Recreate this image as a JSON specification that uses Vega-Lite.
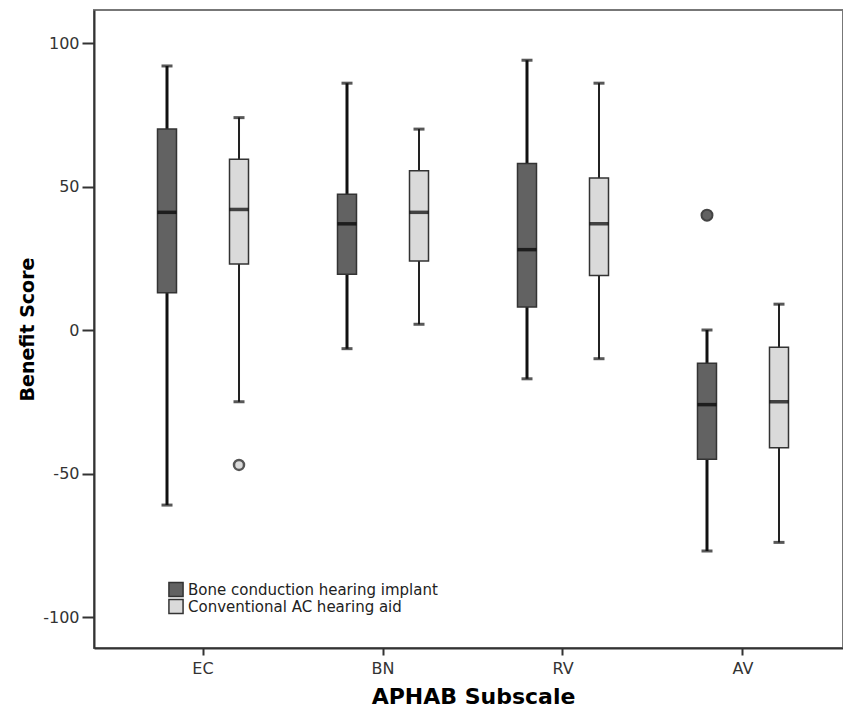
{
  "$schema": "https://vega.github.io/schema/vega-lite/v6.json",
  "width": 749,
  "height": 638,
  "autosize": "none",
  "padding": {"left": 94, "top": 10, "right": 0, "bottom": 68},
  "background": "white",
  "config": {
    "view": {"stroke": "#777777", "strokeWidth": 2},
    "font": "DejaVu Sans",
    "axis": {
      "grid": false,
      "domainColor": "#333333",
      "domainWidth": 2,
      "tickColor": "#333333",
      "tickWidth": 2,
      "labelColor": "#333333",
      "labelFont": "DejaVu Sans",
      "labelFontSize": 16,
      "titleFont": "DejaVu Sans",
      "titleFontWeight": "bold",
      "titleColor": "#000000"
    }
  },
  "datasets": {
    "boxes": [
      {"subscale": "EC", "group": "Bone conduction hearing implant", "lower": -61, "q1": 13, "median": 41, "q3": 70, "upper": 92},
      {"subscale": "EC", "group": "Conventional AC hearing aid", "lower": -25, "q1": 23, "median": 42, "q3": 59.5, "upper": 74},
      {"subscale": "BN", "group": "Bone conduction hearing implant", "lower": -6.5, "q1": 19.4, "median": 37, "q3": 47.3, "upper": 86},
      {"subscale": "BN", "group": "Conventional AC hearing aid", "lower": 2, "q1": 24, "median": 41, "q3": 55.5, "upper": 70},
      {"subscale": "RV", "group": "Bone conduction hearing implant", "lower": -17, "q1": 8, "median": 28, "q3": 58, "upper": 94},
      {"subscale": "RV", "group": "Conventional AC hearing aid", "lower": -10, "q1": 19, "median": 37, "q3": 53, "upper": 86},
      {"subscale": "AV", "group": "Bone conduction hearing implant", "lower": -77, "q1": -45, "median": -26, "q3": -11.6, "upper": 0},
      {"subscale": "AV", "group": "Conventional AC hearing aid", "lower": -74, "q1": -41, "median": -25, "q3": -6, "upper": 9}
    ],
    "outliers": [
      {"subscale": "EC", "group": "Conventional AC hearing aid", "value": -47},
      {"subscale": "AV", "group": "Bone conduction hearing implant", "value": 40}
    ]
  },
  "encoding": {
    "x": {
      "field": "subscale",
      "type": "nominal",
      "sort": ["EC", "BN", "RV", "AV"],
      "scale": {"paddingInner": 0, "paddingOuter": 0.1056, "rangeMax": 758},
      "axis": {
        "title": "APHAB Subscale",
        "titleFontSize": 22,
        "titlePadding": 10,
        "labelAngle": 0,
        "tickSize": 7,
        "labelPadding": 5
      }
    },
    "xOffset": {
      "field": "group",
      "type": "nominal",
      "sort": ["Bone conduction hearing implant", "Conventional AC hearing aid"],
      "scale": {"paddingInner": 0, "paddingOuter": 0.25}
    }
  },
  "layer": [
    {
      "data": {"name": "boxes"},
      "transform": [{"filter": "datum.group === 'Bone conduction hearing implant'"}],
      "mark": {"type": "rule", "color": "#111111", "strokeWidth": 3},
      "encoding": {
        "y": {
          "field": "lower",
          "type": "quantitative",
          "scale": {"domain": [-110.8, 111.5], "nice": false, "zero": false},
          "axis": {
            "title": "Benefit Score",
            "titleFontSize": 19,
            "titlePadding": 5,
            "values": [-100, -50, 0, 50, 100],
            "labelExpr": "toString(datum.value)",
            "tickSize": 12,
            "labelPadding": 3
          }
        },
        "y2": {"field": "upper"}
      }
    },
    {
      "data": {"name": "boxes"},
      "transform": [{"filter": "datum.group === 'Conventional AC hearing aid'"}],
      "mark": {"type": "rule", "color": "#222222", "strokeWidth": 2},
      "encoding": {
        "y": {"field": "lower", "type": "quantitative"},
        "y2": {"field": "upper"}
      }
    },
    {
      "data": {"name": "boxes"},
      "mark": {"type": "tick", "orient": "horizontal", "size": 11, "thickness": 3, "color": "#111111"},
      "encoding": {"y": {"field": "upper", "type": "quantitative"}}
    },
    {
      "data": {"name": "boxes"},
      "mark": {"type": "tick", "orient": "horizontal", "size": 11, "thickness": 3, "color": "#111111"},
      "encoding": {"y": {"field": "lower", "type": "quantitative"}}
    },
    {
      "data": {"name": "boxes"},
      "mark": {"type": "bar", "size": 19, "stroke": "#333333", "strokeWidth": 1.5},
      "encoding": {
        "y": {"field": "q1", "type": "quantitative"},
        "y2": {"field": "q3"},
        "fill": {
          "field": "group",
          "type": "nominal",
          "scale": {"domain": ["Bone conduction hearing implant", "Conventional AC hearing aid"], "range": ["#626262", "#dadada"]},
          "legend": {
            "title": null,
            "orient": "none",
            "legendX": 74,
            "legendY": 571,
            "symbolType": "square",
            "symbolSize": 200,
            "symbolStrokeColor": "#333333",
            "symbolStrokeWidth": 1.5,
            "symbolOpacity": 1,
            "labelFont": "DejaVu Sans",
            "labelFontSize": 15,
            "labelColor": "#222222",
            "labelOffset": 4,
            "labelLimit": 0,
            "rowPadding": 0,
            "clipHeight": 17
          }
        }
      }
    },
    {
      "data": {"name": "boxes"},
      "mark": {"type": "tick", "orient": "horizontal", "size": 19, "thickness": 3.5, "color": "#000000"},
      "encoding": {"y": {"field": "median", "type": "quantitative"}}
    },
    {
      "data": {"name": "outliers"},
      "transform": [{"filter": "datum.group === 'Bone conduction hearing implant'"}],
      "mark": {"type": "point", "shape": "circle", "size": 120, "filled": true, "fill": "#626262", "stroke": "#444444", "strokeWidth": 2, "opacity": 1},
      "encoding": {
        "y": {"field": "value", "type": "quantitative"}
      }
    },
    {
      "data": {"name": "outliers"},
      "transform": [{"filter": "datum.group === 'Conventional AC hearing aid'"}],
      "mark": {"type": "point", "shape": "circle", "size": 100, "filled": true, "fill": "#dadada", "stroke": "#555555", "strokeWidth": 2.5, "opacity": 1},
      "encoding": {
        "y": {"field": "value", "type": "quantitative"}
      }
    }
  ]
}
